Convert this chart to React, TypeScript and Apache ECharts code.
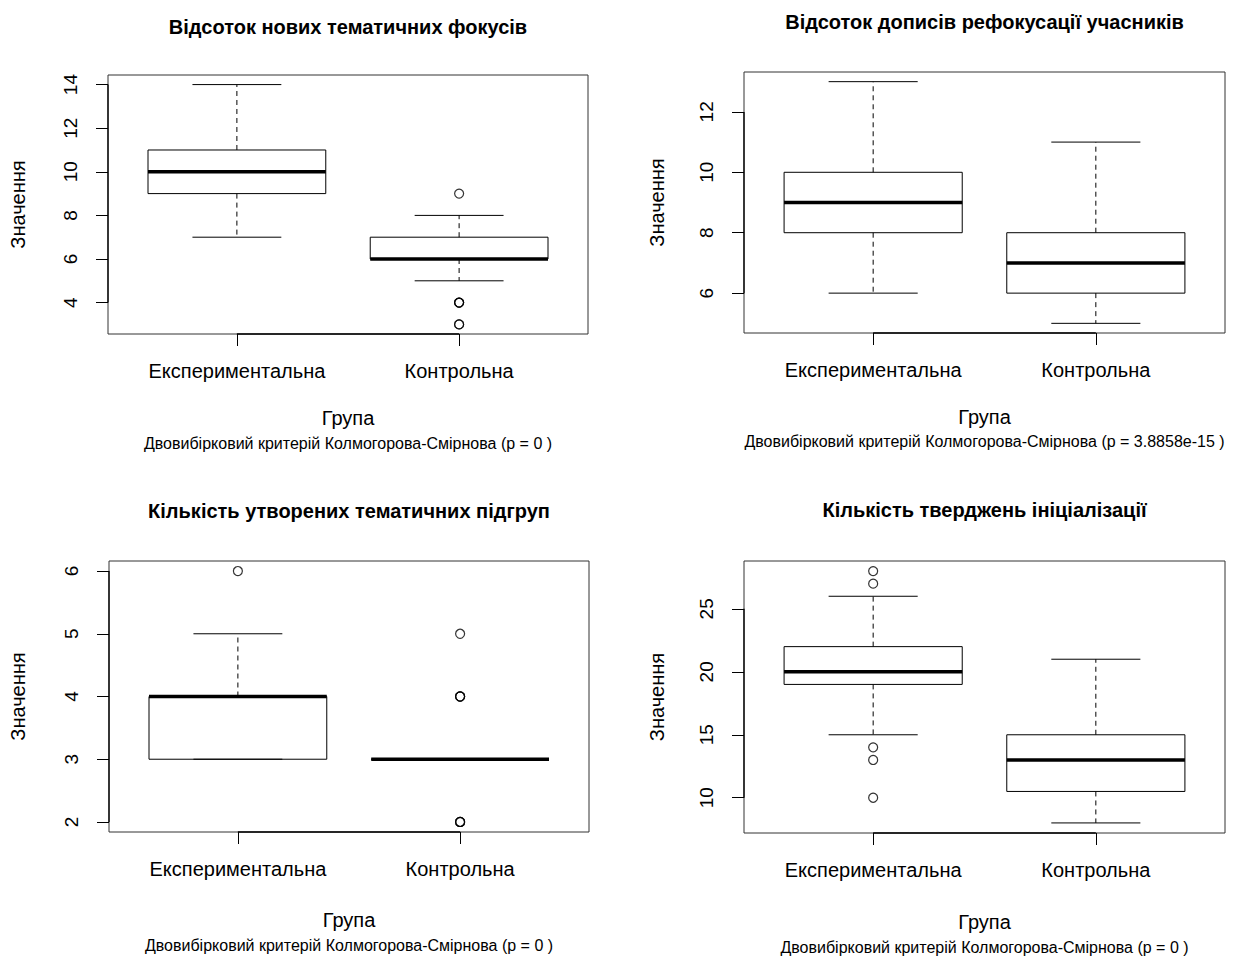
import React, { useEffect, useRef } from "react";
import * as echarts from "echarts";

// ---- data ----
const groups = ["Експериментальна", "Контрольна"];
const titles = [
  "Відсоток нових тематичних фокусів",
  "Відсоток дописів рефокусації учасників",
  "Кількість утворених тематичних підгруп",
  "Кількість тверджень ініціалізації",
];
const pValues = ["0", "3.8858e-15", "0", "0"];
const yAxisTitle = "Значення";
const xAxisTitle = "Група";
const testName = "Двовибірковий критерій Колмогорова-Смірнова";

// [lower whisker, Q1, median, Q3, upper whisker] per group
const focusStats = [
  [7, 9, 10, 11, 14],
  [5, 6, 6, 7, 8],
];
const focusOutliers = [[], [9, 4, 4, 4, 3, 3]];
const focusTicks = [4, 6, 8, 10, 12, 14];

const refocusStats = [
  [6, 8, 9, 10, 13],
  [5, 6, 7, 8, 11],
];
const refocusOutliers: number[][] = [[], []];
const refocusTicks = [6, 8, 10, 12];

const subgroupStats = [
  [3, 3, 4, 4, 5],
  [3, 3, 3, 3, 3],
];
const subgroupOutliers = [[6], [5, 4, 4, 4, 2, 2, 2]];
const subgroupTicks = [2, 3, 4, 5, 6];

const initStats = [
  [15, 19, 20, 22, 26],
  [8, 10.5, 13, 15, 21],
];
const initOutliers = [[28, 27, 14, 13, 10], []];
const initTicks = [10, 15, 20, 25];

const panelsData = [
  { stats: focusStats, outliers: focusOutliers, ticks: focusTicks },
  { stats: refocusStats, outliers: refocusOutliers, ticks: refocusTicks },
  { stats: subgroupStats, outliers: subgroupOutliers, ticks: subgroupTicks },
  { stats: initStats, outliers: initOutliers, ticks: initTicks },
];

// ---- layout (pixels) ----
const frames = [
  { left: 108, top: 75, width: 480, height: 259 },
  { left: 744, top: 72, width: 481, height: 261 },
  { left: 109, top: 561, width: 480, height: 271 },
  { left: 744, top: 561, width: 481, height: 272 },
];
const textPos = [
  { titleY: 27, groupY: 418, subY: 443, yNameX: 18 },
  { titleY: 22, groupY: 417, subY: 441, yNameX: 657 },
  { titleY: 511, groupY: 920, subY: 945, yNameX: 18 },
  { titleY: 510, groupY: 922, subY: 947, yNameX: 657 },
];

const FONT = "'Liberation Sans', Arial, Helvetica, sans-serif";
const INK = "#000";

function buildOption() {
  const grid: any[] = [];
  const xAxis: any[] = [];
  const yAxis: any[] = [];
  const series: any[] = [];
  const graphic: any[] = [];

  panelsData.forEach((p, i) => {
    const f = frames[i];
    const all: number[] = [];
    p.stats.forEach((s) => all.push(...s));
    p.outliers.forEach((o) => all.push(...o));
    const dmin = Math.min(...all);
    const dmax = Math.max(...all);
    const ext = (dmax - dmin) * 0.04;
    const ymin = dmin - ext;
    const ymax = dmax + ext;

    grid.push({
      left: f.left,
      top: f.top,
      width: f.width,
      height: f.height,
      show: true,
      borderColor: "#333",
      borderWidth: 1,
      backgroundColor: "transparent",
    });

    xAxis.push({
      type: "value",
      gridIndex: i,
      min: 0.42,
      max: 2.58,
      splitLine: { show: false },
      axisLine: { show: false },
      axisTick: {
        show: true,
        customValues: [1, 2],
        length: 12,
        lineStyle: { color: INK, width: 1 },
      },
      axisLabel: {
        show: true,
        customValues: [1, 2],
        margin: 27,
        fontSize: 20,
        fontFamily: FONT,
        color: INK,
        formatter: (v: number) => groups[Math.round(v) - 1] ?? "",
      },
    });

    yAxis.push({
      type: "value",
      gridIndex: i,
      min: ymin,
      max: ymax,
      splitLine: { show: false },
      axisLine: { show: false },
      axisTick: {
        show: true,
        customValues: p.ticks,
        length: 12,
        lineStyle: { color: INK, width: 1 },
      },
      axisLabel: {
        show: true,
        customValues: p.ticks,
        rotate: 90,
        margin: 28,
        fontSize: 19,
        fontFamily: FONT,
        color: INK,
        formatter: (v: number) => String(v),
      },
    });

    // axis line segments (R draws axis from first to last tick over the frame)
    const xt = [1, 2];
    series.push({
      type: "custom",
      xAxisIndex: i,
      yAxisIndex: i,
      silent: true,
      data: [[xt[0], xt[1], p.ticks[0], p.ticks[p.ticks.length - 1]]],
      renderItem: (params: any, api: any) => {
        const a = api.coord([api.value(0), ymin]);
        const b = api.coord([api.value(1), ymin]);
        const c = api.coord([0.42, api.value(2)]);
        const d = api.coord([0.42, api.value(3)]);
        return {
          type: "group",
          children: [
            { type: "line", shape: { x1: a[0], y1: a[1], x2: b[0], y2: b[1] }, style: { stroke: INK, lineWidth: 1.3 } },
            { type: "line", shape: { x1: c[0], y1: c[1], x2: d[0], y2: d[1] }, style: { stroke: INK, lineWidth: 1.3 } },
          ],
        };
      },
      z: 3,
    });

    // boxes
    series.push({
      type: "custom",
      xAxisIndex: i,
      yAxisIndex: i,
      silent: true,
      data: p.stats.map((s, gi) => [gi + 1, ...s]),
      renderItem: (params: any, api: any) => {
        const x = api.value(0);
        const lo = api.value(1);
        const q1 = api.value(2);
        const md = api.value(3);
        const q3 = api.value(4);
        const hi = api.value(5);
        const pLo = api.coord([x, lo]);
        const pQ1 = api.coord([x, q1]);
        const pMd = api.coord([x, md]);
        const pQ3 = api.coord([x, q3]);
        const pHi = api.coord([x, hi]);
        const bl = api.coord([x - 0.4, q1])[0];
        const br = api.coord([x + 0.4, q1])[0];
        const cl = api.coord([x - 0.2, q1])[0];
        const cr = api.coord([x + 0.2, q1])[0];
        const cx = pMd[0];
        const dash = { stroke: INK, lineWidth: 1, lineDash: [5, 4] };
        const solid = { stroke: INK, lineWidth: 1 };
        const children: any[] = [];
        if (hi > q3)
          children.push({ type: "line", shape: { x1: cx, y1: pQ3[1], x2: cx, y2: pHi[1] }, style: dash });
        if (lo < q1)
          children.push({ type: "line", shape: { x1: cx, y1: pQ1[1], x2: cx, y2: pLo[1] }, style: dash });
        children.push({ type: "line", shape: { x1: cl, y1: pHi[1], x2: cr, y2: pHi[1] }, style: solid });
        children.push({ type: "line", shape: { x1: cl, y1: pLo[1], x2: cr, y2: pLo[1] }, style: solid });
        children.push({
          type: "rect",
          shape: { x: bl, y: pQ3[1], width: br - bl, height: pQ1[1] - pQ3[1] },
          style: { fill: "transparent", stroke: INK, lineWidth: 1 },
        });
        children.push({ type: "line", shape: { x1: bl, y1: pMd[1], x2: br, y2: pMd[1] }, style: { stroke: INK, lineWidth: 3.5 } });
        return { type: "group", children };
      },
      z: 2,
    });

    // outliers
    const pts: number[][] = [];
    p.outliers.forEach((o, gi) => o.forEach((v) => pts.push([gi + 1, v])));
    series.push({
      type: "scatter",
      xAxisIndex: i,
      yAxisIndex: i,
      silent: true,
      symbol: "circle",
      symbolSize: 9,
      itemStyle: { color: "transparent", borderColor: INK, borderWidth: 1.2 },
      data: pts,
      z: 4,
    });

    const cxFrame = f.left + f.width / 2;
    const cyFrame = f.top + f.height / 2;
    const tp = textPos[i];
    graphic.push({
      type: "text",
      x: cxFrame,
      y: tp.titleY,
      style: {
        text: titles[i],
        font: `bold 20px ${FONT}`,
        fill: INK,
        textAlign: "center",
        textVerticalAlign: "middle",
      },
    });
    graphic.push({
      type: "text",
      x: cxFrame,
      y: tp.groupY,
      style: {
        text: xAxisTitle,
        font: `20px ${FONT}`,
        fill: INK,
        textAlign: "center",
        textVerticalAlign: "middle",
      },
    });
    graphic.push({
      type: "text",
      x: cxFrame,
      y: tp.subY,
      style: {
        text: `${testName} (p = ${pValues[i]} )`,
        font: `16px ${FONT}`,
        fill: INK,
        textAlign: "center",
        textVerticalAlign: "middle",
      },
    });
    graphic.push({
      type: "text",
      x: tp.yNameX,
      y: cyFrame,
      rotation: Math.PI / 2,
      style: {
        text: yAxisTitle,
        font: `20px ${FONT}`,
        fill: INK,
        textAlign: "center",
        textVerticalAlign: "middle",
      },
    });
  });

  return {
    animation: false,
    backgroundColor: "#fff",
    grid,
    xAxis,
    yAxis,
    series,
    graphic,
  };
}

export default function App() {
  const ref = useRef<HTMLDivElement>(null);
  useEffect(() => {
    if (!ref.current) return;
    const chart = echarts.init(ref.current, undefined, { renderer: "svg" });
    chart.setOption(buildOption() as any);
    return () => chart.dispose();
  }, []);
  return (
    <div
      ref={ref}
      style={{ position: "fixed", left: 0, top: 0, width: 1241, height: 958, background: "#fff" }}
    />
  );
}
